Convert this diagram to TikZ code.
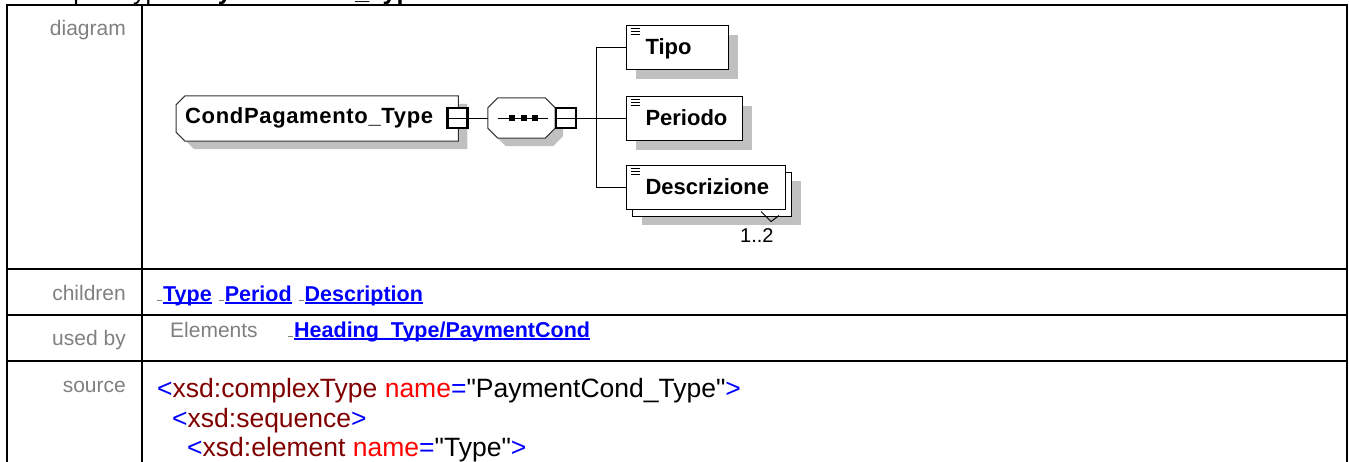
\documentclass[tikz,border=0pt]{standalone}
\usepackage{fontspec}
\usetikzlibrary{shadows,backgrounds}
\newfontfamily\arial{Liberation Sans}
\definecolor{shadowgray}{RGB}{192,192,192}
\definecolor{labelgray}{RGB}{128,128,128}
\definecolor{linkblue}{RGB}{0,0,255}
\definecolor{tagred}{RGB}{128,0,0}
\definecolor{attrred}{RGB}{255,0,0}
\newcommand\lnk[1]{\setbox0\hbox{#1}\rlap{\rule[-2.5pt]{\wd0}{1.5pt}}\box0}
\newcommand\lnkdash{{\color{labelgray}\rule{5pt}{0.8pt}}\hspace{1pt}}

\begin{document}
\begin{tikzpicture}[
  x=1pt, y=-1pt,
  frame/.style={line width=2.4pt, black},
  wire/.style={line width=1pt, black},
  outline/.style={draw=black!80, line width=1pt, fill=white},
  lbl/.style={anchor=base east, inner sep=0pt, text=labelgray,
    font=\arial\fontsize{21}{24}\selectfont},
  txt/.style={anchor=base west, inner sep=0pt,
    font=\arial\fontsize{21}{24}\selectfont},
  lnktxt/.style={txt, text=linkblue,
    font=\arial\bfseries\fontsize{21.5}{24}\selectfont},
  src/.style={anchor=base west, inner sep=0pt,
    font=\arial\fontsize{26.5}{30}\selectfont},
  greyshadow/.style 2 args={general shadow={fill=shadowgray,
    shadow xshift=#1, shadow yshift=-#2}},
  cplx/.style={
    rectangle, minimum width=282pt, minimum height=45pt,
    inner xsep=9pt, text width=264pt, align=left,
    text height=10pt, text depth=0pt,
    font=\arial\bfseries\fontsize{22}{24}\selectfont\addfontfeature{LetterSpace=3}
  },
  seqbox/.style={rectangle, minimum width=67pt, minimum height=40pt, inner sep=0pt},
  minus/.style={
    rectangle, draw, line width=2.5pt, fill=white, minimum size=20pt,
    inner sep=0pt,
    path picture={\draw[line width=1pt] (path picture bounding box.west)
      -- (path picture bounding box.east);}
  },
  elem/.style={
    rectangle, draw, line width=1pt, fill=white, anchor=west,
    minimum height=44pt, inner xsep=0pt, text width=#1, align=left,
    text height=15pt, text depth=0pt,
    font=\arial\bfseries\fontsize{22}{24}\selectfont,
    path picture={\foreach \d in {3,6,9}
      \draw[line width=0.8pt] ([xshift=4pt,yshift=-\d pt]path picture bounding box.north west)
        -- ++(9pt,0pt);}
  }
]
\useasboundingbox (0,0) rectangle (1349,461);

%% ── Title (cut off at the top) ──────────────────────────────
\node[txt, font=\arial\fontsize{25}{28}\selectfont] (hdrkind) at (26,-1) {complexType};
\node[txt, font=\arial\bfseries\fontsize{25}{28}\selectfont] (hdrname) at (187,-1) {PaymentCond\_Type};

%% ── Table frame ─────────────────────────────────────────────
\draw[frame] (7,470) -- (7,5) -- (1347,5) -- (1347,470);
\draw[frame] (142,5) -- (142,470);
\foreach \yy in {269,315,361}
  \draw[frame] (7,\yy) -- (1347,\yy);

%% ── Row labels ──────────────────────────────────────────────
\node[lbl] (lbldiag) at (126,35)  {diagram};
\node[lbl] (lblkids) at (126,300) {children};
\node[lbl] (lblused) at (126,345) {used by};
\node[lbl] (lblsrc)  at (126,392) {source};

%% ── Diagram: type, sequence, children ───────────────────────
\node[cplx, anchor=west] (cpt) at (176,118.5) {CondPagamento\_Type};
\node[seqbox] (seq) at (521.5,118) {};
\begin{scope}[on background layer]
  \filldraw[outline, greyshadow={9pt}{8pt}]
    (cpt.north east) -- ([xshift=9pt]cpt.north west)
    -- ([yshift=-9pt]cpt.north west) -- ([yshift=9pt]cpt.south west)
    -- ([xshift=9pt]cpt.south west) -- (cpt.south east) -- cycle;
  \filldraw[outline, greyshadow={8pt}{8pt}]
    ([xshift=10pt]seq.north west) -- ([xshift=-10pt]seq.north east)
    -- ([yshift=-10pt]seq.north east) -- ([yshift=10pt]seq.south east)
    -- ([xshift=-10pt]seq.south east) -- ([xshift=10pt]seq.south west)
    -- ([yshift=10pt]seq.south west) -- ([yshift=-10pt]seq.north west) -- cycle;
\end{scope}
\draw[line width=1pt] (seq.center) ++(-23.5,0) -- ++(50,0);
\foreach \dx in {-9.5,2,13.5}
  \fill ([xshift=\dx pt]seq.center) +(-3,-3) rectangle +(3,3);
\node[minus] (m1) at (457.5,118) {};
\node[minus] (m2) at (566,118) {};
\coordinate (fork) at (596,118);

\node[elem=102pt, greyshadow={9pt}{10pt}] (tipo) at (626,47)
  {\hspace*{19pt}Tipo};
\node[elem=116pt, greyshadow={9pt}{10pt}] (per) at (626,118)
  {\hspace*{19pt}Periodo};
\node[elem=159pt, greyshadow={15.5pt}{16pt},
  copy shadow={shadow xshift=6pt, shadow yshift=-7pt}] (desc) at (626,187)
  {\hspace*{19pt}Descrizione};
\draw[wire] (desc.south east) ++(-25,2) -- ++(10,10) -- ++(8,-6);
\node[txt, font=\arial\fontsize{20}{22}\selectfont] (mult) at (740,242) {1..2};

\draw[wire] (m1.east) -- (seq.west);
\draw[wire] (m2.east) -- (fork);
\draw[wire] (fork) |- (tipo.west);
\draw[wire] (fork) -- (per.west);
\draw[wire] (fork) |- (desc.west);

%% ── Children and used-by rows ───────────────────────────────
\node[lnktxt] (kids) at (157,301)
  {\lnkdash\lnk{Type}\hspace{7pt}\lnkdash\lnk{Period}\hspace{7pt}\lnkdash\lnk{Description}};
\node[txt, text=labelgray] (elts) at (170,337) {Elements};
\node[lnktxt] (usedlnk) at (288,337) {\lnkdash\lnk{Heading\_Type/PaymentCond}};

%% ── Source listing ──────────────────────────────────────────
\node[src] (src1) at (157,397) {\color{linkblue}<\color{tagred}xsd:complexType
  \color{attrred}name\color{linkblue}=\color{black}"PaymentCond\_Type"\color{linkblue}>};
\node[src] (src2) at (172,427) {\color{linkblue}<\color{tagred}xsd:sequence\color{linkblue}>};
\node[src] (src3) at (187,456) {\color{linkblue}<\color{tagred}xsd:element
  \color{attrred}name\color{linkblue}=\color{black}"Type"\color{linkblue}>};

\end{tikzpicture}
\end{document}
